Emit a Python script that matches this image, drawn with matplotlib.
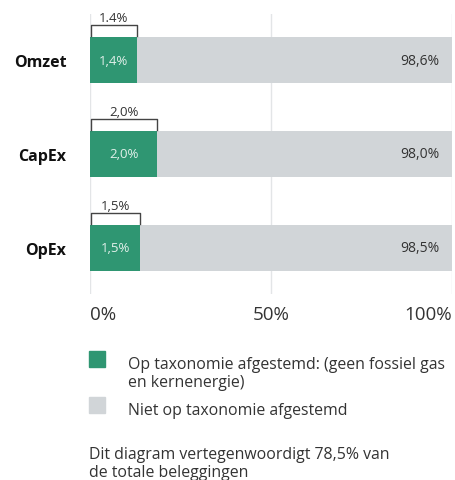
import matplotlib
matplotlib.use("Agg")
import matplotlib.pyplot as plt
from matplotlib.patches import Rectangle

plt.rcParams['font.family'] = ['Open Sans', 'DejaVu Sans']

# ---- data ----
categories = ["Omzet", "CapEx", "OpEx"]
aligned = [1.4, 2.0, 1.5]
not_aligned = [98.6, 98.0, 98.5]
inner_labels = ["1,4%", "2,0%", "1,5%"]
bracket_labels = ["1.4%", "2,0%", "1,5%"]
outer_labels = ["98,6%", "98,0%", "98,5%"]
ticks = [0, 50, 100]
tick_labels = ["0%", "50%", "100%"]
legend_labels = ["Op taxonomie afgestemd: (geen fossiel gas\nen kernenergie)",
                 "Niet op taxonomie afgestemd"]
footnote = "Dit diagram vertegenwoordigt 78,5% van\nde totale beleggingen"

GREEN = "#2f9672"
GREY = "#d1d5d8"
TXT = "#333333"
# small shares are stretched so the label fits inside the green part
VISUAL_SCALE = 9.3

W, H = 455, 481
fig = plt.figure(figsize=(W / 100, H / 100), dpi=100)
ax = fig.add_axes([90 / W, 1 - 295 / H, 362 / W, 280 / H])

green_w = [v * VISUAL_SCALE for v in aligned]
grey_w = [100 - g for g in green_w]
ypos = list(range(len(categories)))

for x in ticks:
    ax.axvline(x, color="#e3e5e7", lw=1, zorder=0)

ax.barh(ypos, green_w, height=0.49, color=GREEN, zorder=2)
ax.barh(ypos, grey_w, left=green_w, height=0.49, color=GREY, zorder=2)

for y, g, il, bl, ol in zip(ypos, green_w, inner_labels, bracket_labels, outer_labels):
    ax.text(g / 2, y, il, ha="center", va="center", color="#e2f0ea",
            fontsize=9.5, zorder=3)
    ax.text(96.5, y, ol, ha="right", va="center", color=TXT,
            fontsize=10, zorder=3)
    # bracket above the green part (y axis is inverted)
    top = y - 0.245
    ax.plot([0.4, 0.4, g, g], [top - 0.015, top - 0.125, top - 0.125, top - 0.015],
            color="#444444", lw=1, zorder=3, clip_on=False)
    ax.text(g / 2, top - 0.135, bl, ha="center", va="bottom", color=TXT,
            fontsize=9.5, zorder=3)

ax.set_xlim(0, 100)
ax.set_ylim(len(categories) - 0.51, -0.49)
for s in ax.spines.values():
    s.set_visible(False)
ax.set_yticks(ypos)
ax.set_yticklabels(categories, fontsize=11.5, fontweight="bold", color="#111111")
ax.tick_params(axis="y", length=0, pad=17)
ax.set_xticks(ticks)
ax.set_xticklabels(tick_labels, fontsize=13.5, color=TXT)
ax.tick_params(axis="x", length=0, pad=8)
xt = ax.get_xticklabels()
xt[0].set_ha("left")
xt[-1].set_ha("right")

# legend, square aligned with the first text line
for col, lab, ytop in zip([GREEN, GREY], legend_labels, [352, 398]):
    fig.add_artist(Rectangle((89 / W, 1 - (ytop + 16) / H), 16 / W, 16 / H,
                             color=col, transform=fig.transFigure))
    fig.text(128 / W, 1 - (ytop + 5) / H, lab, fontsize=11.4, color=TXT,
             ha="left", va="top", linespacing=1.2)

fig.text(89 / W, 1 - 447 / H, footnote, fontsize=11.4, color=TXT,
         ha="left", va="top", linespacing=1.2)

fig.savefig("out.png", dpi=100)
